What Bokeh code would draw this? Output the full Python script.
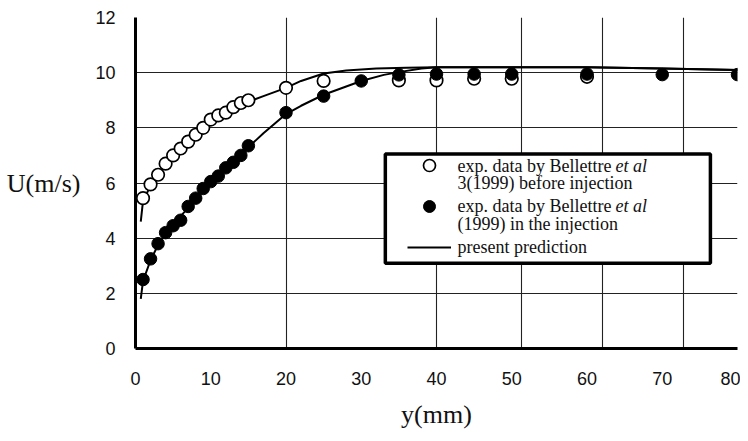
from bokeh.plotting import figure
from bokeh.models import Range1d, FixedTicker, Label, BoxAnnotation, Legend, LegendItem
from bokeh.embed import file_html
from bokeh.resources import INLINE

# ---- data ----
x_before = [1, 2, 3, 4, 5, 6, 7, 8, 9, 10, 11, 12, 13, 14, 15, 20, 25, 35, 40, 45, 50, 60]
u_before = [5.45, 5.95, 6.3, 6.7, 7.0, 7.25, 7.5, 7.75, 8.0, 8.3, 8.45, 8.55, 8.75, 8.9, 9.0,
            9.45, 9.7, 9.72, 9.72, 9.78, 9.78, 9.85]

x_inj = [1, 2, 3, 4, 5, 6, 7, 8, 9, 10, 11, 12, 13, 14, 15, 20, 25, 30, 35, 40, 45, 50, 60, 70, 80]
u_inj = [2.5, 3.25, 3.8, 4.2, 4.45, 4.65, 5.15, 5.45, 5.8, 6.05, 6.25, 6.55, 6.75, 7.0, 7.35,
         8.55, 9.15, 9.7, 9.92, 9.95, 9.95, 9.95, 9.95, 9.93, 9.93]

x_pred_before = [0.7, 1, 2, 3, 4, 5, 6, 7, 8, 9, 10, 12, 14, 15, 17, 20, 22, 25, 28, 32, 36,
                 40, 50, 60, 70, 80]
u_pred_before = [4.6, 5.35, 5.9, 6.3, 6.7, 7.0, 7.25, 7.5, 7.75, 8.0, 8.25, 8.55, 8.85, 8.95,
                 9.15, 9.45, 9.7, 9.97, 10.08, 10.15, 10.18, 10.2, 10.2, 10.2, 10.15, 10.1]

x_pred_inj = [0.7, 1, 2, 3, 4, 5, 6, 7, 8, 9, 10, 12, 14, 15, 17, 20, 22, 25, 28, 30, 33, 35,
              38, 40, 50, 60, 70, 80]
u_pred_inj = [1.8, 2.45, 3.2, 3.75, 4.2, 4.5, 4.8, 5.1, 5.45, 5.75, 6.05, 6.55, 7.05, 7.3, 7.8,
              8.5, 8.8, 9.2, 9.5, 9.7, 9.92, 10.02, 10.15, 10.2, 10.2, 10.2, 10.15, 10.1]

x_ticks = [0, 10, 20, 30, 40, 50, 60, 70, 80]
y_ticks = [0, 2, 4, 6, 8, 10, 12]
x_grid = [20, 40, 51.25, 62, 72.8, 80]
y_grid = [2, 4, 6, 8, 10, 12]

# ---- figure ----
p = figure(width=740, height=433, output_backend="svg", toolbar_location=None,
           x_range=Range1d(0, 80), y_range=Range1d(0, 12),
           min_border_left=135, min_border_right=3, min_border_top=17, min_border_bottom=85)
p.outline_line_color = None
p.background_fill_color = "white"
p.border_fill_color = "white"

for ax in (p.xaxis, p.yaxis):
    ax.axis_line_width = 3
    ax.axis_line_color = "black"
    ax.major_tick_out = 0
    ax.major_tick_in = 0
    ax.minor_tick_out = 0
    ax.minor_tick_in = 0
    ax.major_label_text_font = "Liberation Sans"
    ax.major_label_text_font_size = "18px"
    ax.major_label_text_color = "#111111"
    ax.axis_label_text_font = "Liberation Serif"
    ax.axis_label_text_font_style = "normal"
    ax.axis_label_text_font_size = "26px"
    ax.axis_label_text_color = "#111111"

p.xaxis.ticker = FixedTicker(ticks=x_ticks)
p.yaxis.ticker = FixedTicker(ticks=y_ticks)
p.xaxis.major_label_standoff = 23
p.yaxis.major_label_standoff = 20
p.xaxis.axis_label = "y(mm)"
p.yaxis.axis_label = "U(m/s)"
p.yaxis.axis_label_orientation = "horizontal"
p.xaxis.axis_label_standoff = 12
p.yaxis.axis_label_standoff = 12

p.xgrid.ticker = FixedTicker(ticks=x_grid)
p.ygrid.ticker = FixedTicker(ticks=y_grid)
p.grid.grid_line_color = "#222222"
p.grid.grid_line_width = 1.1

# legend frame (drawn first among annotations so keys and texts sit on top)
box = BoxAnnotation(left=33.2, right=76.4, top=7.05, bottom=3.09,
                    fill_color="white", fill_alpha=1.0,
                    line_color="black", line_alpha=1.0, line_width=3.5)
p.add_layout(box)

# ---- glyphs ----
r_line1 = p.line(x_pred_before, u_pred_before, line_color="black", line_width=2)
p.line(x_pred_inj, u_pred_inj, line_color="black", line_width=2)
r_open = p.scatter(x_before, u_before, size=12.5, marker="circle",
                   fill_color="white", line_color="black", line_width=1.7)
r_fill = p.scatter(x_inj, u_inj, size=12.5, marker="circle",
                   fill_color="black", line_color="black", line_width=1)

legend = Legend(items=[LegendItem(label=" ", renderers=[r_open]),
                       LegendItem(label=" ", renderers=[r_fill]),
                       LegendItem(label=" ", renderers=[r_line1])],
                location=(272, 86), padding=0, margin=0, spacing=11,
                glyph_height=30, glyph_width=44, label_height=30, label_standoff=0,
                label_text_font_size="1px",
                border_line_alpha=0, background_fill_alpha=0)
p.add_layout(legend, "center")

fnt = "Liberation Serif"
def lab(x, y, t, style="normal"):
    p.add_layout(Label(x=x, y=y, text=t, text_font=fnt, text_font_size="18px",
                       text_font_style=style, text_color="#111111",
                       text_baseline="middle", text_align="left"))

lab(42.8, 6.62, "exp. data by Bellettre ")
lab(63.8, 6.62, "et al", "italic")
lab(42.8, 6.0, "3(1999) before injection")
lab(42.8, 5.16, "exp. data by Bellettre ")
lab(63.8, 5.16, "et al", "italic")
lab(42.8, 4.51, "(1999) in the injection")
lab(42.8, 3.67, "present prediction")

open("out.html", "w").write(file_html(p, INLINE))
